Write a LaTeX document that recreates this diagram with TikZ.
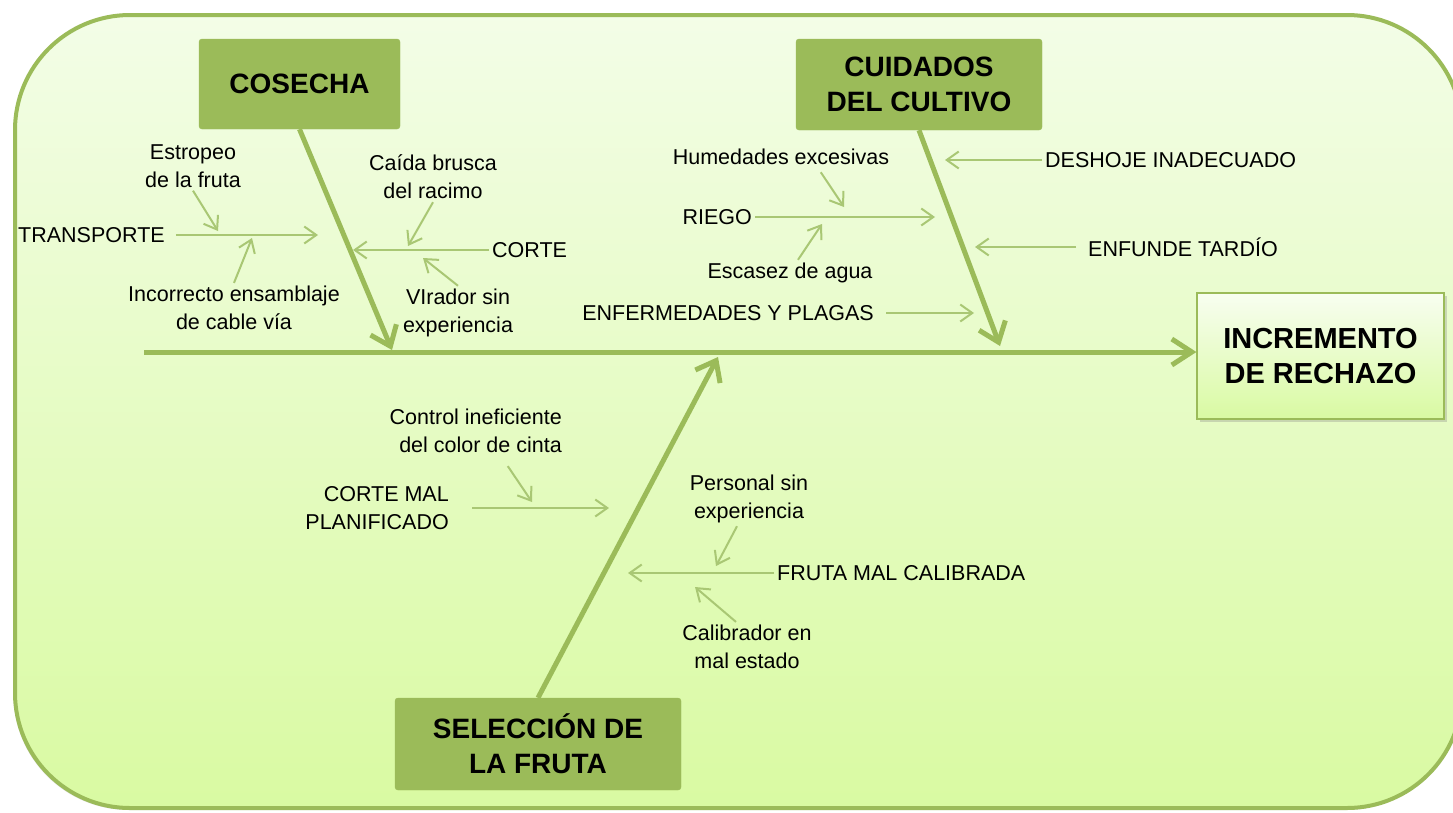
\documentclass[tikz,border=0pt]{standalone}
\usepackage{fontspec}
\setmainfont{Liberation Sans}
\usepackage{xcolor}
\usetikzlibrary{arrows.meta, positioning, shadows}
\definecolor{verde}{HTML}{9BBB59}
\definecolor{verdeclaro}{HTML}{A9C774}
\definecolor{fondoarriba}{HTML}{F3FDE7}
\definecolor{fondoabajo}{HTML}{D9FAA2}

\begin{document}
\begin{tikzpicture}[x=1pt, y=-1pt,
    causa/.style={rectangle, rounded corners=3pt, fill=verde, draw=verde, align=center,
        font=\fontsize{28}{35}\selectfont\bfseries},
    etiq/.style={font=\fontsize{21.5}{28}\selectfont, inner sep=3pt},
    hueso/.style={draw=verde, line width=5pt, -{Straight Barb[length=18pt, width=28pt]}},
    rama/.style={draw=verdeclaro, line width=2pt, -{Straight Barb[length=12pt, width=17pt]}}]
    \useasboundingbox (0,0) rectangle (1453,812);

    % marco
    \draw[verde, line width=4pt, rounded corners=115pt, top color=fondoarriba, bottom color=fondoabajo,
        drop shadow={shadow xshift=-1.5pt, shadow yshift=-2pt, opacity=0.2}] (15,15) rectangle (1462,808);

    % espina
    \node[draw=verde, line width=1.2pt, top color=fondoarriba!60!white, bottom color=fondoabajo,
        minimum width=247pt, minimum height=126pt, align=center,
        font=\fontsize{29}{35}\selectfont\bfseries,
        drop shadow={shadow xshift=3pt, shadow yshift=-3pt, opacity=0.3}] (incremento) at (1320.5,356) {INCREMENTO\\DE RECHAZO};
    \coordinate (cola) at (144,352);
    \draw[hueso, -{Straight Barb[length=20pt, width=26pt]}] (cola) -- (cola -| incremento.west);

    % causas principales
    \node[causa, minimum width=201pt, minimum height=90pt] (cosecha) at (299.5,84) {COSECHA};
    \node[causa, minimum width=246pt, minimum height=91pt] (cuidados) at (919,84.5) {CUIDADOS\\DEL CULTIVO};
    \node[causa, minimum width=286pt, minimum height=92pt] (seleccion) at (538,744) {SELECCIÓN DE\\LA FRUTA};

    \coordinate (pcosecha) at (392,350);
    \coordinate (pcuidados) at (1000,346);
    \coordinate (pseleccion) at (718,357);

    \draw[hueso] (cosecha.south) -- (pcosecha);
    \draw[hueso] (cuidados.south) -- (pcuidados);
    \draw[hueso] (seleccion.north) -- (pseleccion);

    % cosecha
    \node[etiq, anchor=west] (transporte) at (15,235) {TRANSPORTE};
    \node[etiq, align=center] (estropeo) at (193,166) {Estropeo\\de la fruta};
    \node[etiq, align=center] (incorrecto) at (234,308) {Incorrecto ensamblaje\\de cable vía};
    \node[etiq, anchor=west] (corte) at (489,250) {CORTE};
    \node[etiq, align=center] (caida) at (433,177) {Caída brusca\\del racimo};
    \node[etiq, align=center] (virador) at (458,313) {VIrador sin\\experiencia};

    \coordinate (ptransporte) at (318,235);
    \coordinate (pestropeo) at (218,231);
    \coordinate (pincorrecto) at (252,238);
    \coordinate (pcorte) at (353,250);
    \coordinate (pcaida) at (408,246);
    \coordinate (pvirador) at (423,258);

    \draw[rama, shorten <=8pt] (transporte) -- (ptransporte);
    \draw[rama] (estropeo.south) -- (pestropeo);
    \draw[rama] (incorrecto.north) -- (pincorrecto);
    \draw[rama] (corte) -- (pcorte);
    \draw[rama] (caida.south) -- (pcaida);
    \draw[rama] (virador.north) -- (pvirador);

    % cuidados del cultivo
    \node[etiq, anchor=east] (riego) at (755,217) {RIEGO};
    \node[etiq] (humedad) at (781,157) {Humedades excesivas};
    \node[etiq] (escasez) at (790,273) {Escasez de agua};
    \node[etiq, anchor=east] (enferm) at (877,313) {ENFERMEDADES Y PLAGAS};
    \node[etiq, anchor=west] (deshoje) at (1042,160) {DESHOJE INADECUADO};
    \node[etiq, anchor=west] (enfunde) at (1085,247) {ENFUNDE TARDÍO};

    \coordinate (priego) at (935,217);
    \coordinate (phumedad) at (844,207);
    \coordinate (pescasez) at (822,224);
    \coordinate (penferm) at (974,313);
    \coordinate (pdeshoje) at (945,160);
    \coordinate (penfunde) at (975,247);

    \draw[rama] (riego) -- (priego);
    \draw[rama, shorten <=5pt] ([xshift=37pt]humedad.south) -- (phumedad);
    \draw[rama] ([xshift=8pt]escasez.north) -- (pescasez);
    \draw[rama, shorten <=9pt] (enferm) -- (penferm);
    \draw[rama] (deshoje) -- (pdeshoje);
    \draw[rama, shorten <=9pt] (enfunde) -- (penfunde);

    % seleccion de la fruta
    \node[etiq, anchor=east, align=right] (cmp) at (452,508) {CORTE MAL\\PLANIFICADO};
    \node[etiq, anchor=east, align=right] (control) at (565,431) {Control ineficiente\\del color de cinta};
    \node[etiq, anchor=west] (fruta) at (774,573) {FRUTA MAL CALIBRADA};
    \node[etiq, align=center] (personal) at (749,499) {Personal sin\\experiencia};
    \node[etiq, align=center] (calibrador) at (747,647) {Calibrador en\\mal estado};

    \coordinate (pcmp) at (609,508);
    \coordinate (pcontrol) at (532,502);
    \coordinate (pfruta) at (628,573);
    \coordinate (ppersonal) at (716,566);
    \coordinate (pcalibrador) at (695,587);

    \draw[rama, shorten <=20pt] (cmp.east) -- (pcmp);
    \draw[rama] ([xshift=32pt, yshift=-10pt]control.south) -- (pcontrol);
    \draw[rama] (fruta) -- (pfruta);
    \draw[rama] ([xshift=-12pt]personal.south) -- (ppersonal);
    \draw[rama] ([xshift=-11pt]calibrador.north) -- (pcalibrador);
\end{tikzpicture}
\end{document}
